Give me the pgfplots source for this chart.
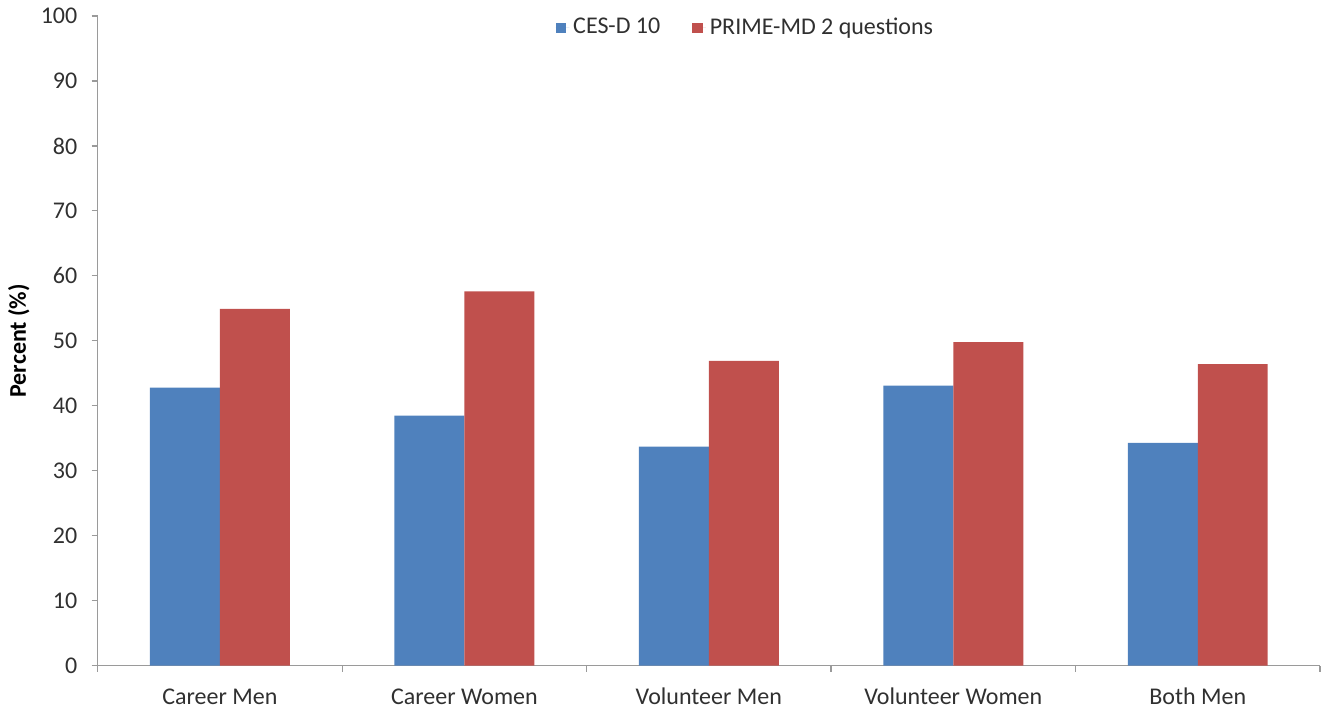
\documentclass[border=0pt]{standalone}
\usepackage{pgfplots}
\pgfplotsset{compat=1.18}
\usepackage{fontspec}
\setmainfont{Carlito}
\definecolor{cblue}{HTML}{4F81BD}
\definecolor{cred}{HTML}{C0504D}
\definecolor{axgray}{HTML}{9A9A9A}
\definecolor{txt}{HTML}{303030}
\begin{document}
\begin{tikzpicture}
\fontsize{12}{14}\selectfont
\begin{axis}[
  at={(0,0)}, anchor=south west,
  scale only axis,
  width=611.5pt, height=325pt,
  ybar=0pt, bar width=35pt,
  xmin=0.5, xmax=5.5, ymin=0, ymax=100,
  ytick={0,10,...,100},
  xtick={1,2,3,4,5},
  xticklabels={Career Men, Career Women, Volunteer Men, Volunteer Women, Both Men},
  minor xtick={0.5,1.5,2.5,3.5,4.5,5.5},
  major x tick style={draw=none},
  tick align=outside,
  major tick length=3pt, minor tick length=3pt,
  every tick/.style={axgray, line width=0.6pt},
  every minor tick/.style={axgray, line width=0.6pt},
  axis x line*=bottom, axis y line*=left,
  axis line style={axgray, line width=0.6pt, -},
  tick label style={font=\fontsize{12}{14}\selectfont, text=txt},
  /pgf/number format/assume math mode=true,
  yticklabel style={xshift=-3pt},
  xticklabel style={yshift=-3pt, text height=1.6ex, text depth=0.3ex},
  ylabel={\bfseries Percent (\%)},
  ylabel style={font=\fontsize{11}{13}\selectfont, text=black},
  every axis y label/.style={at={(-39.5pt,162.5pt)}, rotate=90, anchor=center},
  legend style={at={(0.5307,0.9815)}, anchor=center, draw=none, fill=none,
    legend columns=2, font=\fontsize{12}{14}\selectfont, text=txt,
    /tikz/every even column/.append style={column sep=14pt}},
  legend image code/.code={\fill[#1,draw=none] (0pt,-2.6pt) rectangle (5.2pt,2.6pt); \path (0pt,0pt) -- (6.8pt,0pt);},
  clip=false,
]
\addplot[fill=cblue, draw=none] coordinates {(1,42.8) (2,38.5) (3,33.7) (4,43.1) (5,34.3)};
\addplot[fill=cred, draw=none] coordinates {(1,54.9) (2,57.6) (3,46.9) (4,49.8) (5,46.4)};
\legend{CES-D 10, PRIME-MD 2 questions}
\end{axis}
\path[use as bounding box] (-48.5pt,-21.5pt) rectangle (614.5pt,333pt);
\end{tikzpicture}
\end{document}
